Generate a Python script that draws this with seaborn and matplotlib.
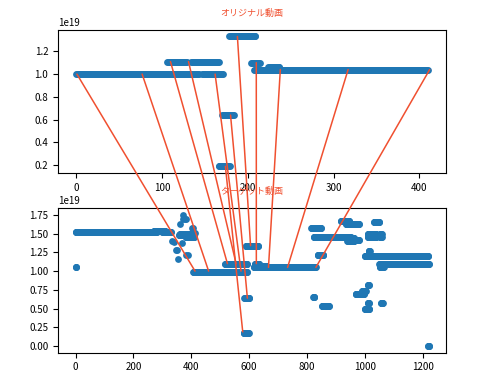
import numpy as np
import pandas as pd
import matplotlib
matplotlib.use('Agg')
import matplotlib.pyplot as plt
from matplotlib.patches import ConnectionPatch
from matplotlib.ticker import MultipleLocator
import seaborn as sns

plt.rcParams['font.family'] = ['Noto Sans CJK JP', 'DejaVu Sans']

# runs of frames with the same value (start frame, end frame, value in 1e19)
top_start = [0, 147, 106, 134, 178, 170, 166, 204, 207, 224]
top_end = [143, 171, 129, 166, 209, 184, 179, 214, 410, 237]
top_val = [1.00, 1.00, 1.11, 1.11, 1.33, 0.64, 0.19, 1.10, 1.04, 1.06]

bot_start = [0, 270, 300, 0, 358, 380, 360, 407, 517, 588, 584, 581, 620, 616, 640,
             815, 824, 951, 837, 822, 852, 917, 935, 940, 963, 968, 991, 1010, 1010,
             1000, 1013, 1010, 1010, 1053, 1053, 1032, 1056, 1000, 1050, 1052, 1219]
bot_end = [280, 310, 330, 2, 375, 410, 400, 592, 592, 632, 600, 598, 635, 830, 660,
           848, 951, 963, 857, 826, 876, 946, 980, 963, 980, 997, 1003, 1014, 1014,
           1015, 1017, 1040, 1040, 1058, 1058, 1050, 1062, 1220, 1222, 1065, 1223]
bot_val = [1.52, 1.54, 1.52, 1.06, 1.48, 1.45, 1.50, 0.99, 1.10, 1.34, 0.64, 0.18, 1.10,
           1.05, 1.07, 1.57, 1.45, 1.44, 1.22, 0.65, 0.53, 1.67, 1.63, 1.40, 1.42, 0.70,
           0.74, 0.81, 0.58, 0.50, 1.27, 1.50, 1.45, 1.50, 1.45, 1.65, 0.58, 1.20, 1.09,
           1.05, 0.00]

# scattered single frames around 330-415 in the target
bot_px = [335, 340, 367, 352, 348, 387, 383, 355, 361, 372, 372, 381, 378, 401, 407, 410, 413]
bot_py = [1.40, 1.39, 1.38, 1.28, 1.28, 1.22, 1.22, 1.16, 1.63, 1.75, 1.69, 1.69, 1.70,
          1.57, 1.57, 1.51, 1.51]

# matched frames (original -> target)
link_top_x = [1, 77, 110, 131, 162, 174, 180, 188, 210, 238, 317, 412]
link_top_y = [1.00, 1.00, 1.11, 1.11, 1.00, 0.19, 0.64, 1.33, 1.10, 1.04, 1.04, 1.04]
link_bot_x = [413, 460, 525, 555, 572, 578, 594, 605, 625, 667, 733, 831]
link_bot_y = [1.00, 1.00, 1.10, 1.10, 1.00, 0.19, 0.64, 1.34, 1.10, 1.05, 1.05, 1.05]


def expand(starts, ends, vals):
    xs, ys = [], []
    for s, e, v in zip(starts, ends, vals):
        for f in range(s, e + 1):
            xs.append(f)
            ys.append(v * 1e19)
    return xs, ys


tx, ty = expand(top_start, top_end, top_val)
bx, by = expand(bot_start, bot_end, bot_val)
bx += bot_px
by += [v * 1e19 for v in bot_py]

df_top = pd.DataFrame({'frame': tx, 'hash': ty})
df_bot = pd.DataFrame({'frame': bx, 'hash': by})

fig = plt.figure(figsize=(5, 3.75), dpi=100)
ax1 = fig.add_axes([0.116, 0.539, 0.776, 0.381])
ax2 = fig.add_axes([0.116, 0.0595, 0.776, 0.385])

red = '#f05030'
for ax, df, title in [(ax1, df_top, 'オリジナル動画'), (ax2, df_bot, 'ターゲット動画')]:
    sns.scatterplot(data=df, x='frame', y='hash', ax=ax, s=24, linewidth=0,
                    color='#1f77b4')
    ax.set_xlabel('')
    ax.set_ylabel('')
    ax.set_title(title, color=red, fontsize=6.5, pad=10)
    ax.tick_params(labelsize=7)
    ax.yaxis.get_offset_text().set_fontsize(7)

ax1.set_xlim(-21, 431)
ax1.xaxis.set_major_locator(MultipleLocator(100))
ax2.set_xlim(-61, 1281)
ax2.set_yticks([0, 0.25e19, 0.5e19, 0.75e19, 1.0e19, 1.25e19, 1.5e19, 1.75e19])

for x1, y1, x2, y2 in zip(link_top_x, link_top_y, link_bot_x, link_bot_y):
    con = ConnectionPatch(xyA=(x1, y1 * 1e19), coordsA=ax1.transData,
                          xyB=(x2, y2 * 1e19), coordsB=ax2.transData,
                          color=red, linewidth=1.1)
    fig.add_artist(con)

fig.savefig('out.png', dpi=100)
